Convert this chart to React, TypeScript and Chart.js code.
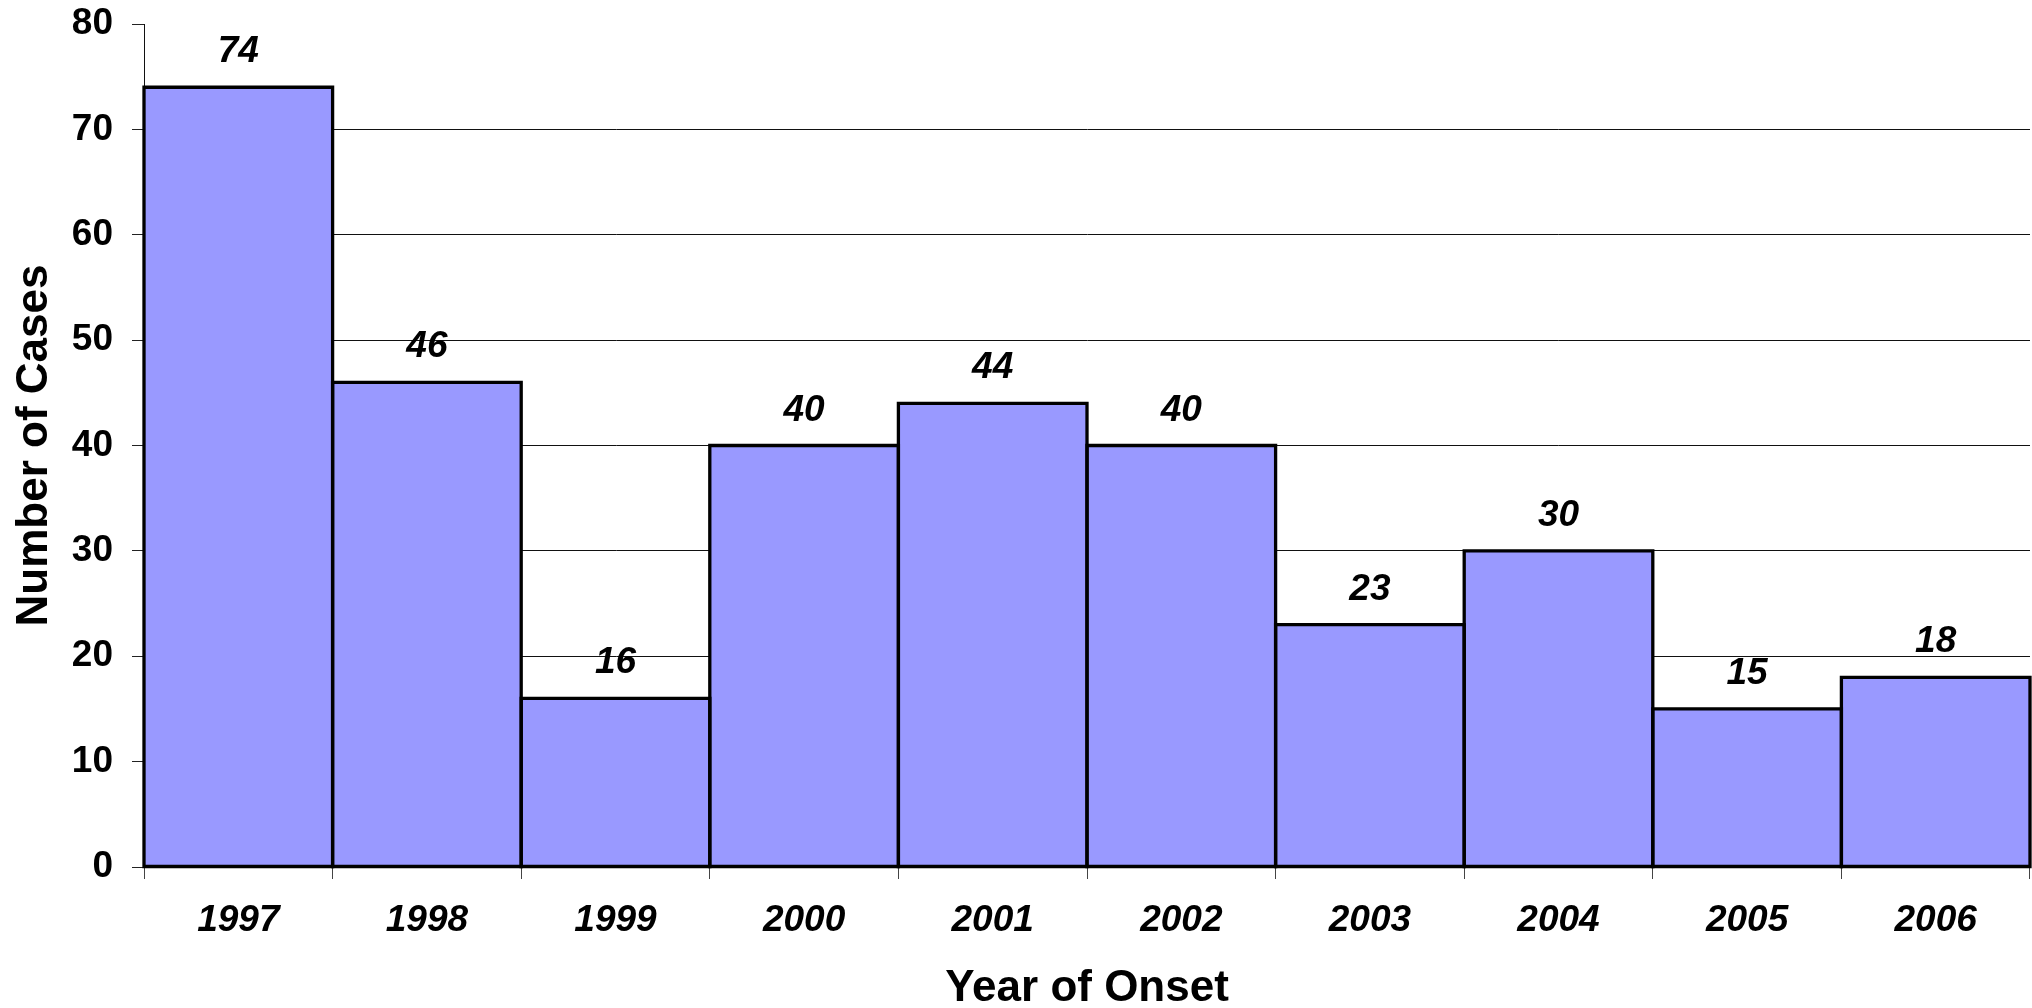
import React, { useEffect, useRef } from "react";
import { Chart, registerables } from "chart.js";

Chart.register(...registerables);

const years = ["1997", "1998", "1999", "2000", "2001", "2002", "2003", "2004", "2005", "2006"];
const cases = [74, 46, 16, 40, 44, 40, 23, 30, 15, 18];
const yMin = 0;
const yMax = 80;
const yStep = 10;
const xTitle = "Year of Onset";
const yTitle = "Number of Cases";

const FONT = '"Liberation Sans", Arial, sans-serif';

const valueLabels = {
  id: "valueLabels",
  afterDatasetsDraw(chart: any) {
    const ctx = chart.ctx;
    const meta = chart.getDatasetMeta(0);
    ctx.save();
    ctx.font = `italic bold 37px ${FONT}`;
    ctx.fillStyle = "#000";
    ctx.textAlign = "center";
    ctx.textBaseline = "alphabetic";
    meta.data.forEach((bar: any, i: number) => {
      ctx.fillText(String(cases[i]), bar.x, bar.y - 25);
    });
    ctx.restore();
  },
};

// draws the outline of each bar as a stroke centered on the bar edges
const barOutline = {
  id: "barOutline",
  afterDatasetsDraw(chart: any) {
    const ctx = chart.ctx;
    const meta = chart.getDatasetMeta(0);
    ctx.save();
    ctx.strokeStyle = "#000";
    ctx.lineWidth = 3.3;
    ctx.lineJoin = "miter";
    meta.data.forEach((bar: any) => {
      const p = bar.getProps(["x", "y", "base", "width"], true);
      const l = p.x - p.width / 2;
      const r = p.x + p.width / 2;
      ctx.beginPath();
      ctx.rect(l, p.y, r - l, p.base - p.y);
      ctx.stroke();
    });
    ctx.restore();
  },
};

export default function App() {
  const ref = useRef<HTMLCanvasElement | null>(null);
  useEffect(() => {
    if (!ref.current) return;
    const chart = new Chart(ref.current, {
      type: "bar",
      data: {
        labels: years,
        datasets: [
          {
            data: cases,
            backgroundColor: "#9999FF",
            borderWidth: 0,
            categoryPercentage: 1,
            barPercentage: 1,
          } as any,
        ],
      },
      options: {
        animation: false,
        responsive: false,
        devicePixelRatio: 1,
        layout: { padding: { top: 24, right: 2, left: 0, bottom: 0 } },
        plugins: {
          legend: { display: false },
          tooltip: { enabled: false },
        },
        scales: {
          x: {
            offset: true,
            afterFit: (s: any) => {
              s.height = 141;
              s.paddingLeft = 0;
              s.paddingRight = 0;
            },
            grid: {
              offset: true,
              drawOnChartArea: false,
              drawTicks: true,
              tickLength: 12,
              color: "#444",
            },
            border: { display: true, color: "#000", width: 1 },
            ticks: {
              color: "#000",
              padding: 20,
              maxRotation: 0,
              font: { family: FONT, size: 37, weight: "bold", style: "italic", lineHeight: 1.2 },
            },
            title: {
              display: true,
              text: xTitle,
              color: "#000",
              font: { family: FONT, size: 44, weight: "bold", lineHeight: 0.85 },
              padding: { top: 0, bottom: 0 },
            },
          },
          y: {
            min: yMin,
            max: yMax,
            afterFit: (s: any) => {
              s.width = 144;
              s.paddingTop = 0;
              s.paddingBottom = 0;
            },
            grid: {
              color: (c: any) => (c.tick && c.tick.value === yMax ? "rgba(0,0,0,0)" : "#111"),
              tickColor: "#222",
              lineWidth: 1,
              drawTicks: true,
              tickLength: 12,
            },
            border: { display: true, color: "#111", width: 1 },
            ticks: {
              stepSize: yStep,
              color: "#000",
              padding: 19,
              font: { family: FONT, size: 37, weight: "bold", lineHeight: 1.2 },
            },
            title: {
              display: true,
              text: yTitle,
              color: "#000",
              font: { family: FONT, size: 44, weight: "bold", lineHeight: 1.2 },
              padding: { top: 8, bottom: 0 },
            },
          },
        },
      } as any,
      plugins: [barOutline, valueLabels],
    });
    return () => chart.destroy();
  }, []);
  return (
    <div style={{ position: "absolute", left: 0, top: 0, width: 2032, height: 1008, background: "#fff" }}>
      <canvas ref={ref} width={2032} height={1008} style={{ display: "block" }} />
    </div>
  );
}
